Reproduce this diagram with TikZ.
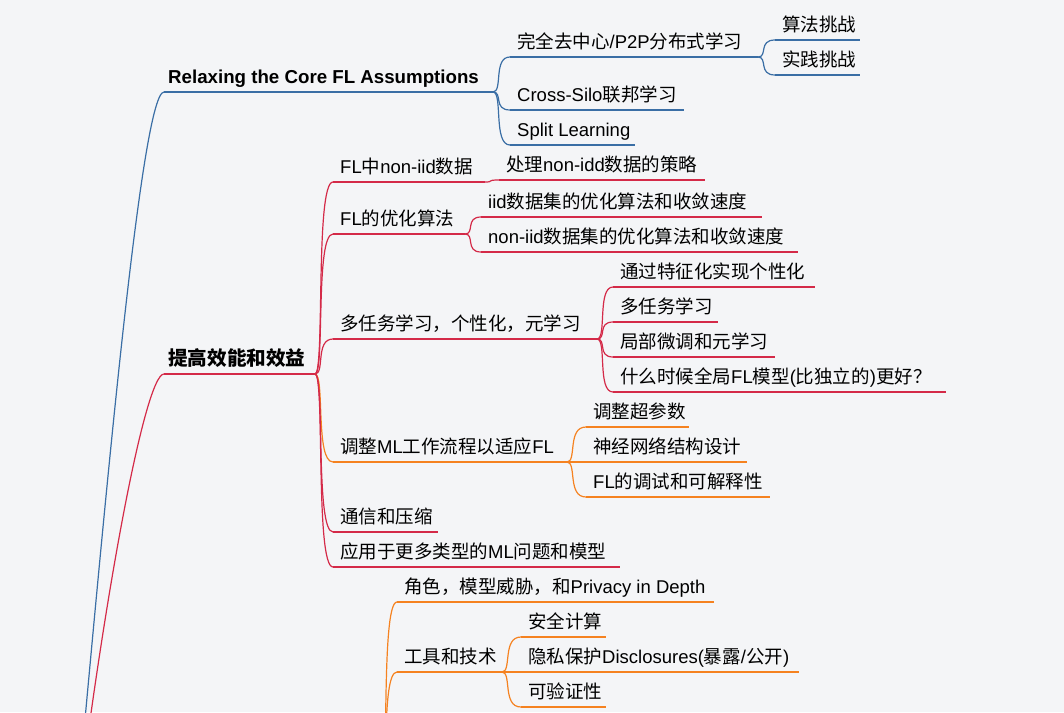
\documentclass[tikz,border=0pt]{standalone}
\usepackage{fontspec}
\setmainfont{Liberation Sans}
\newfontfamily\zh{Noto Sans CJK SC}
\usetikzlibrary{calc}
\definecolor{bg}{HTML}{F4F5F7}
\definecolor{cblue}{HTML}{3A6EA5}
\definecolor{cred}{HTML}{D42A48}
\definecolor{corange}{HTML}{F58220}
\newcommand\zz[1]{{\zh #1}}
\newcommand\topic[7][lbl]{%
  \coordinate (#2-l) at (#4,#6);
  \coordinate (#2-r) at (#5,#6);
  \draw[ln,#3] (#2-l) -- (#2-r);
  \node[#1, anchor=base west] (#2) at ($(#2-l)+(7,-9)$) {#7};
}
\newcommand\link[3]{\draw[ln,#1] (#2-r) .. controls ($(#2-r)+(10,0)$) and (#2-r |- #3-l) .. (#3-l);}
\begin{document}
\begin{tikzpicture}[x=1pt,y=-1pt,
  ln/.style={line width=1.2pt},
  lbl/.style={inner sep=0pt, font=\fontsize{18.5}{22}\selectfont, text=black},
  mainlbl/.style={lbl, font=\fontsize{18.7}{22}\selectfont\bfseries, xshift=-3pt},
  mainzh/.style={lbl, font=\fontsize{19.6}{22}\selectfont\bfseries, xshift=-3pt}]
\fill[bg] (0,0) rectangle (1064,712);
\useasboundingbox (0,0) rectangle (1064,712);
\clip (0,0) rectangle (1064,712);

\coordinate (root) at (72,860);
\coordinate (priv-r) at (380,800);

% blue branch
\topic[mainlbl]{relax}{cblue}{164}{493}{92}{Relaxing the Core FL Assumptions}
\topic{p2p}{cblue}{510}{758}{57}{\zz{完全去中心}/P2P\zz{分布式学习}}
\topic{algo}{cblue}{775}{860}{40}{\zz{算法挑战}}
\topic{prac}{cblue}{775}{860}{75}{\zz{实践挑战}}
\topic{silo}{cblue}{510}{684}{110}{Cross-Silo\zz{联邦学习}}
\topic{split}{cblue}{510}{635}{145}{Split Learning}

% red branch
\topic[mainzh]{perf}{cred}{164}{315}{374}{\zz{提高效能和效益}}
\topic{noniid}{cred}{333}{485}{182}{FL\zz{中}non-iid\zz{数据}}
\topic{strat}{cred}{499}{705}{180}{\zz{处理}non-idd\zz{数据的策略}}
\topic{opt}{cred}{333}{465}{234}{FL\zz{的优化算法}}
\topic{iid}{cred}{481}{762}{217}{iid\zz{数据集的优化算法和收敛速度}}
\topic{niid}{cred}{481}{798}{252}{non-iid\zz{数据集的优化算法和收敛速度}}
\topic{mtl}{cred}{333}{597}{339}{\zz{多任务学习，个性化，元学习}}
\topic{feat}{cred}{613}{815}{287}{\zz{通过特征化实现个性化}}
\topic{mtl2}{cred}{613}{718}{322}{\zz{多任务学习}}
\topic{meta}{cred}{613}{775}{357}{\zz{局部微调和元学习}}
\topic{when}{cred}{613}{946}{392}{\zz{什么时候全局}FL\zz{模型}(\zz{比独立的})\zz{更好？}}
\topic{wf}{corange}{333}{567}{462}{\zz{调整}ML\zz{工作流程以适应}FL}
\topic{hyp}{corange}{586}{689}{427}{\zz{调整超参数}}
\topic{nas}{corange}{586}{747}{462}{\zz{神经网络结构设计}}
\topic{dbg}{corange}{586}{770}{497}{FL\zz{的调试和可解释性}}
\topic{comm}{cred}{333}{438}{532}{\zz{通信和压缩}}
\topic{app}{cred}{333}{620}{567}{\zz{应用于更多类型的}ML\zz{问题和模型}}

% orange branch (parent below the frame)
\topic{role}{corange}{397}{714}{602}{\zz{角色，模型威胁，和}Privacy in Depth}
\topic{tools}{corange}{397}{502}{672}{\zz{工具和技术}}
\topic{smc}{corange}{521}{606}{637}{\zz{安全计算}}
\topic{disc}{corange}{521}{799}{672}{\zz{隐私保护}Disclosures(\zz{暴露}/\zz{公开})}
\topic{verif}{corange}{521}{606}{707}{\zz{可验证性}}

% connectors
\draw[ln,cblue] (root) .. controls (100,560) and (140,92) .. (relax-l);
\draw[ln,cred] (root) .. controls (100,620) and (144,374) .. (perf-l);
\link{cblue}{relax}{p2p}
\link{cblue}{relax}{silo}
\link{cblue}{relax}{split}
\link{cblue}{p2p}{algo}
\link{cblue}{p2p}{prac}
\link{cred}{perf}{noniid}
\link{cred}{perf}{opt}
\link{cred}{perf}{mtl}
\link{corange}{perf}{wf}
\link{cred}{perf}{comm}
\link{cred}{perf}{app}
\link{cred}{noniid}{strat}
\link{cred}{opt}{iid}
\link{cred}{opt}{niid}
\link{cred}{mtl}{feat}
\link{cred}{mtl}{mtl2}
\link{cred}{mtl}{meta}
\link{cred}{mtl}{when}
\link{corange}{wf}{hyp}
\link{corange}{wf}{nas}
\link{corange}{wf}{dbg}
\link{corange}{priv}{role}
\link{corange}{priv}{tools}
\link{corange}{tools}{smc}
\link{corange}{tools}{disc}
\link{corange}{tools}{verif}
\end{tikzpicture}
\end{document}
